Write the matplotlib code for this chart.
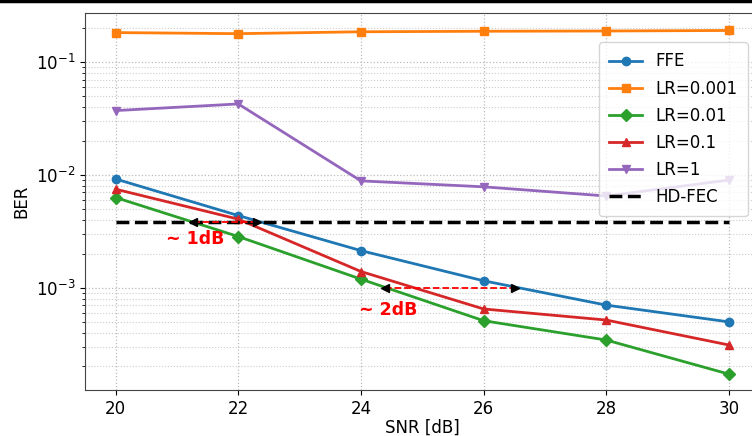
import numpy as np
import matplotlib.pyplot as plt
from matplotlib.lines import Line2D

snr = [20, 22, 24, 26, 28, 30]
ber_ffe = [9.2e-3, 4.36e-3, 2.13e-3, 1.15e-3, 7.0e-4, 4.97e-4]
ber_lr0001 = [0.183, 0.179, 0.186, 0.188, 0.189, 0.191]
ber_lr001 = [6.3e-3, 2.84e-3, 1.19e-3, 5.09e-4, 3.43e-4, 1.71e-4]
ber_lr01 = [7.47e-3, 4.05e-3, 1.39e-3, 6.47e-4, 5.16e-4, 3.1e-4]
ber_lr1 = [3.72e-2, 4.26e-2, 8.85e-3, 7.84e-3, 6.5e-3, 9.0e-3]
hd_fec = 3.8e-3

# dB gap markers: (x_left, x_right, y) and text positions
gap1 = (21.26, 22.3, hd_fec)
gap2 = (24.39, 26.51, 1.0e-3)
label1 = (21.3, 2.69e-3, "~ 1dB")
label2 = (24.45, 6.3e-4, "~ 2dB")

fig = plt.figure(figsize=(7.52, 4.36), dpi=100)
ax = fig.add_axes([0.113, 0.1055, 0.897, 0.8647])

ax.plot(snr, ber_ffe, marker='o', color='C0', lw=2, ms=6, label='FFE')
ax.plot(snr, ber_lr0001, marker='s', color='C1', lw=2, ms=6, label='LR=0.001')
ax.plot(snr, ber_lr001, marker='D', color='C2', lw=2, ms=6, label='LR=0.01')
ax.plot(snr, ber_lr01, marker='^', color='C3', lw=2, ms=6, label='LR=0.1')
ax.plot(snr, ber_lr1, marker='v', color='C4', lw=2, ms=6, label='LR=1')
ax.plot([snr[0], snr[-1]], [hd_fec, hd_fec], 'k--', lw=2.5, label='HD-FEC')

for x0, x1, y in (gap1, gap2):
    ax.plot([x0, x1], [y, y], color='red', ls='--', lw=1.3, zorder=4)
    ax.plot([x0], [y], marker='<', color='black', ms=6, zorder=5)
    ax.plot([x1], [y], marker='>', color='black', ms=6, zorder=5)
for x, y, s in (label1, label2):
    ax.text(x, y, s, color='red', fontsize=12.5, fontweight='bold', ha='center', va='center')

ax.set_yscale('log')
ax.set_xlim(19.5, 30.5)
ax.set_ylim(1.236e-4, 0.273)
ax.set_xticks(snr)
ax.tick_params(labelsize=12)
ax.grid(True, which='major', ls=':', color='#bbbbbb', lw=0.9)
ax.grid(True, which='minor', axis='y', ls=':', color='#cccccc', lw=0.8)
ax.set_xlabel('SNR [dB]', fontsize=12, labelpad=1)
ax.set_ylabel('BER', fontsize=12)
for sp in ax.spines.values():
    sp.set_color('#444444')

ax.legend(loc='upper right', bbox_to_anchor=(0.995, 0.944), fontsize=12,
          framealpha=0.8, handlelength=2.0, labelspacing=0.55, borderpad=0.6)

fig.add_artist(Line2D([0, 1], [0.998, 0.998], color='black', lw=2.5, transform=fig.transFigure))

fig.savefig('out.png', dpi=100)
